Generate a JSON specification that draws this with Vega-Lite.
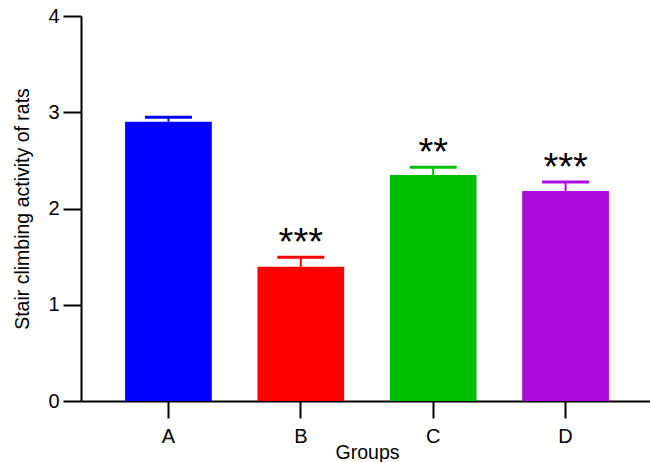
{
  "$schema": "https://vega.github.io/schema/vega-lite/v6.json",
  "width": 569,
  "height": 385,
  "autosize": {"type": "none"},
  "padding": {"left": 81, "top": 16, "right": 0, "bottom": 61},
  "background": "white",
  "config": {
    "view": {"stroke": null},
    "font": "Liberation Sans",
    "axis": {"grid": false, "domainColor": "black", "tickColor": "black", "labelColor": "black", "titleColor": "black", "titleFontWeight": "normal", "domainWidth": 2, "tickWidth": 2}
  },
  "data": {
    "values": [
      {"group": "A", "value": 2.902, "upper": 2.948, "stars": ""},
      {"group": "B", "value": 1.395, "upper": 1.493, "stars": "***"},
      {"group": "C", "value": 2.348, "upper": 2.428, "stars": "**"},
      {"group": "D", "value": 2.182, "upper": 2.275, "stars": "***"}
    ]
  },
  "encoding": {
    "x": {
      "field": "group", "type": "nominal",
      "scale": {"paddingInner": 0.345, "paddingOuter": 0.333, "range": [0, 572]},
      "axis": {"title": "Groups", "labelAngle": 0, "labelFontSize": 20, "tickSize": 17, "labelPadding": 8, "titleFontSize": 19.5, "titleBaseline": "alphabetic", "titleY": 57}
    }
  },
  "layer": [
    {
      "mark": {"type": "bar"},
      "encoding": {
        "y": {
          "field": "value", "type": "quantitative",
          "scale": {"domain": [0, 4], "nice": false},
          "axis": {"title": "Stair climbing activity of rats", "values": [0, 1, 2, 3, 4], "format": "d", "labelFontSize": 20, "tickSize": 18, "labelPadding": 4, "titleFontSize": 19.5, "titleBaseline": "alphabetic", "titleX": -53, "titleY": 192.5, "titleAngle": -90}
        },
        "color": {
          "field": "group", "type": "nominal",
          "scale": {"domain": ["A", "B", "C", "D"], "range": ["#0000FF", "#FF0000", "#00BF00", "#AC0ADF"]},
          "legend": null
        }
      }
    },
    {
      "mark": {"type": "rule", "strokeWidth": 2},
      "encoding": {
        "y": {"field": "value", "type": "quantitative"},
        "y2": {"field": "upper"},
        "color": {"field": "group", "type": "nominal", "legend": null}
      }
    },
    {
      "mark": {"type": "tick", "size": 47, "thickness": 3, "opacity": 1},
      "encoding": {
        "y": {"field": "upper", "type": "quantitative"},
        "color": {"field": "group", "type": "nominal", "legend": null}
      }
    },
    {
      "mark": {"type": "text", "fontSize": 38, "baseline": "alphabetic", "dy": -2, "color": "black"},
      "encoding": {
        "y": {"field": "upper", "type": "quantitative"},
        "text": {"field": "stars"}
      }
    }
  ]
}
